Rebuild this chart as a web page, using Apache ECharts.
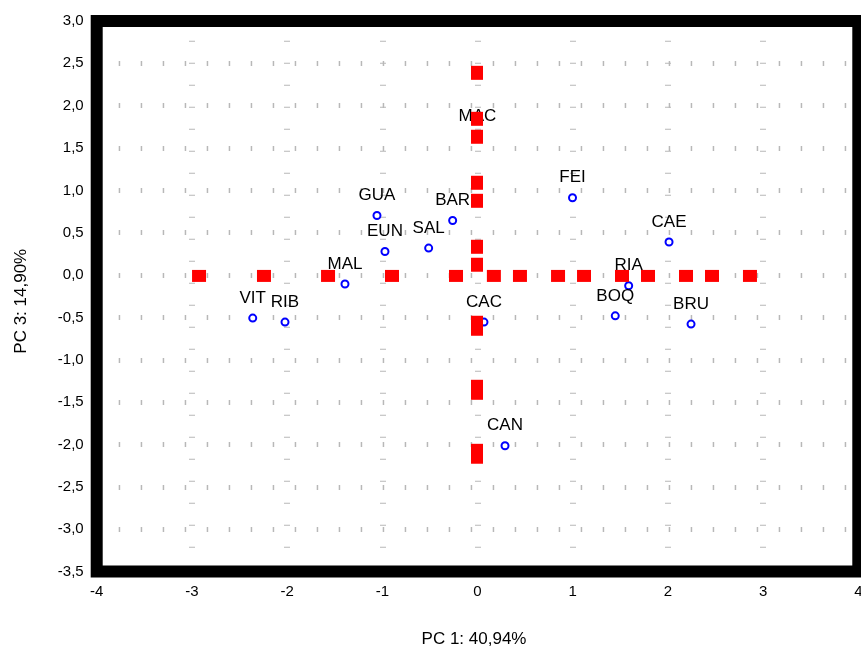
<!DOCTYPE html>
<html>
<head>
<meta charset="utf-8">
<script src="https://cdn.jsdelivr.net/npm/echarts@6/dist/echarts.min.js"></script>
<style>html,body{margin:0;padding:0;background:#fff;}#chart{width:861px;height:650px;}</style>
</head>
<body>
<div id="chart"></div>
<script>
// Sample labels and PCA scores (PC 1, PC 3)
const sampleNames = ['VIT','RIB','MAL','GUA','EUN','SAL','BAR','MAC','FEI','CAE','RIA','BOQ','BRU','CAC','CAN'];
const pc1Scores = [-2.361,-2.022,-1.392,-1.056,-0.972,-0.513,-0.261,0.000,0.998,2.012,1.588,1.447,2.243,0.068,0.289];
const pc3Scores = [-0.508,-0.555,-0.106,0.704,0.279,0.319,0.645,1.633,0.913,0.390,-0.126,-0.481,-0.579,-0.555,-2.015];

// Red dashed zero lines (dash positions)
const zeroRowX = [-2.925,-2.243,-1.570,-0.898,-0.226,0.172,0.446,0.846,1.119,1.518,1.791,2.190,2.463,2.862];
const zeroRowY = -0.01;
const zeroColY = [2.388,1.845,1.633,1.090,0.877,0.334,0.122,-0.563,-0.634,-1.319,-1.390,-2.075,-2.145];
const zeroColX = -0.005;

// Axes
const xAxisName = 'PC 1: 40,94%';
const yAxisName = 'PC 3: 14,90%';
const xRange = [-4, 4], xStep = 1;
const yRange = [-3.5, 3.0], yStep = 0.5;

const FONT = '"Liberation Sans", Arial, sans-serif';
const chart = echarts.init(document.getElementById('chart'), null, {renderer: 'canvas'});

const pointData = sampleNames.map((n, i) => ({name: n, value: [pc1Scores[i], pc3Scores[i]]}));
const rowData = zeroRowX.map(x => [x, zeroRowY]);
const colData = zeroColY.map(y => [zeroColX, y]);

chart.setOption({
  animation: false,
  backgroundColor: '#fff',
  grid: {
    left: 96.7, right: 2.7, top: 21, bottom: 78.5,
    show: true, borderColor: '#000', borderWidth: 12, z: 1,
    containLabel: false, outerBoundsMode: 'none'
  },
  xAxis: {
    type: 'value', min: xRange[0], max: xRange[1], interval: xStep,
    name: xAxisName, nameLocation: 'middle', nameGap: 59,
    nameTextStyle: {fontFamily: FONT, fontSize: 17, color: '#000', padding: [0, 7, 0, 0]},
    axisLine: {show: false}, axisTick: {show: false},
    axisLabel: {fontFamily: FONT, fontSize: 15, color: '#000', margin: 13},
    splitLine: {show: true, lineStyle: {color: '#b8b8b8', width: 6, type: [1, 21], dashOffset: 2.3}}
  },
  yAxis: {
    type: 'value', min: yRange[0], max: yRange[1], interval: yStep,
    name: yAxisName, nameLocation: 'middle', nameGap: 67,
    nameTextStyle: {fontFamily: FONT, fontSize: 17, color: '#000', padding: [0, 10, 0, 0]},
    axisLine: {show: false}, axisTick: {show: false},
    axisLabel: {fontFamily: FONT, fontSize: 15, color: '#000', margin: 13,
      formatter: v => v.toFixed(1).replace('.', ',')},
    splitLine: {show: true, lineStyle: {color: '#b8b8b8', width: 5, type: [1.5, 20.5], dashOffset: 0}}
  },
  series: [
    {
      type: 'scatter', z: 2, data: pointData,
      symbol: 'circle', symbolSize: 7,
      itemStyle: {color: '#fff', borderColor: '#0000ff', borderWidth: 2, opacity: 1},
      label: {show: true, position: 'top', distance: 7, formatter: p => p.name,
        fontFamily: FONT, fontSize: 17, color: '#000'},
      emphasis: {disabled: true}
    },
    {
      type: 'scatter', z: 3, data: rowData,
      symbol: 'rect', symbolSize: [14, 12],
      itemStyle: {color: '#ff0000', opacity: 1},
      emphasis: {disabled: true}
    },
    {
      type: 'scatter', z: 3, data: colData,
      symbol: 'rect', symbolSize: [12, 14],
      itemStyle: {color: '#ff0000', opacity: 1},
      emphasis: {disabled: true}
    }
  ]
});
</script>
</body>
</html>
